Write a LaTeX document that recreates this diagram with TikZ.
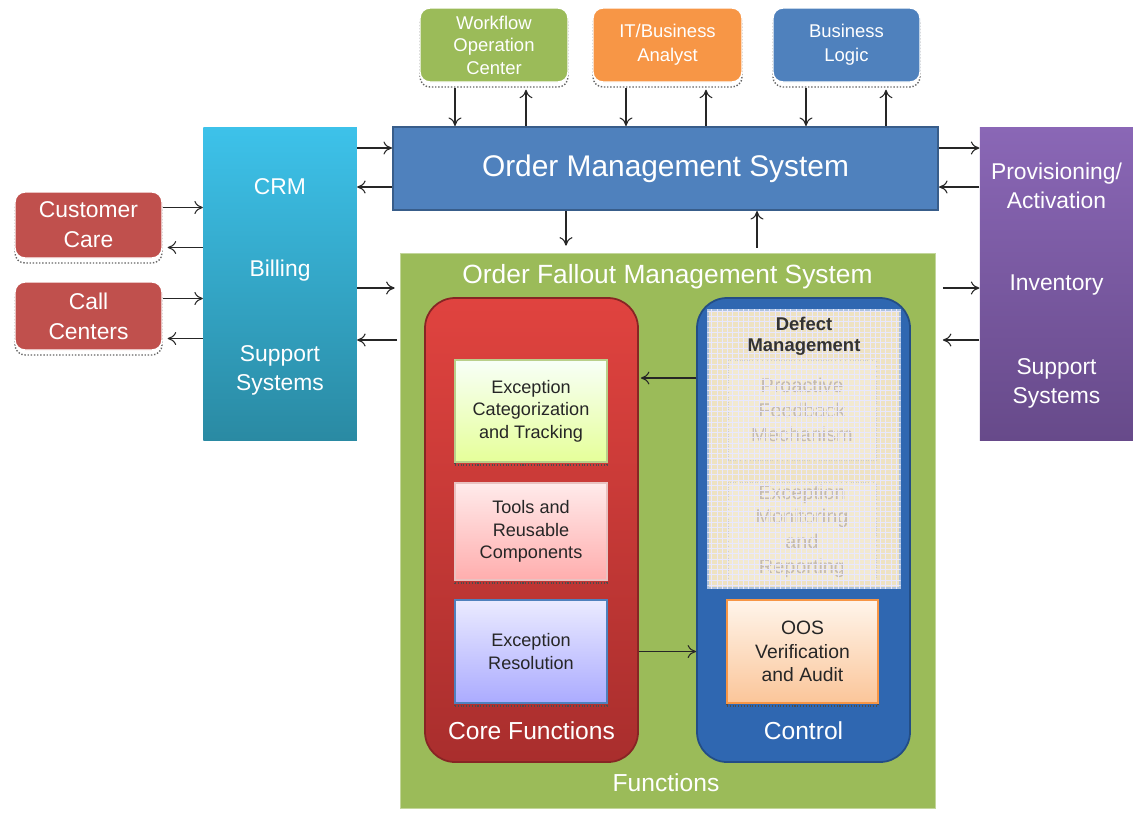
\documentclass[tikz,border=0pt]{standalone}
\usepackage{fontspec}
\setmainfont{Liberation Sans}
\usetikzlibrary{arrows.meta, shadows, patterns}

\definecolor{wfgreen}{HTML}{9BBB59}
\definecolor{itorange}{HTML}{F79646}
\definecolor{omsblue}{HTML}{4F81BD}
\definecolor{omsedge}{HTML}{385D8A}
\definecolor{carered}{HTML}{C0504D}
\definecolor{crmtop}{HTML}{3DC2EA}
\definecolor{crmbot}{HTML}{2A8AA3}
\definecolor{provtop}{HTML}{8A67B6}
\definecolor{provbot}{HTML}{674A8A}
\definecolor{coretop}{HTML}{E0433F}
\definecolor{corebot}{HTML}{A92E2D}
\definecolor{ctrlblue}{HTML}{2F67B1}
\definecolor{defbeige}{HTML}{EEE2C2}

\begin{document}
\begin{tikzpicture}[
    >={To[length=1.7mm,width=2.6mm]},
    link/.style={->, draw=black!85, line width=0.6pt},
    tab/.style={draw=white, line width=0.8pt, rounded corners=0.2cm, text=white, align=center, inner sep=0pt,
        general shadow={fill=white, draw=black!60, densely dotted, shadow yshift=-0.1cm}},
    column/.style={draw=none, inner sep=0pt, minimum width=3.07cm, minimum height=6.26cm},
    collabel/.style={text=white, align=center, font=\fontsize{13}{16.5}\selectfont},
    panel/.style={rounded corners=0.6cm, line width=1pt, inner sep=0pt, minimum width=4.26cm, minimum height=9.28cm},
    panellabel/.style={text=white, font=\fontsize{14}{17}\selectfont},
    part/.style={draw, line width=0.6pt, align=center, inner sep=0pt, text=black!85,
        minimum width=3.04cm, font=\fontsize{10.3}{12.8}\selectfont,
        general shadow={draw=black!70, densely dotted, fill=none, shadow yshift=-0.06cm}},
    faded/.style={draw=black!20, densely dotted, fill=defbeige!60!white, fill opacity=0.6, text opacity=1,
        text=brown!45!black!35, align=center, inner sep=0pt, minimum width=2.96cm, font=\fontsize{11.3}{14}\selectfont}
]
    \fill[white] (0,0) rectangle (22.66,-16.24);
    \useasboundingbox (0,0) rectangle (22.66,-16.24);

    % Actors on top
    \node[tab, fill=wfgreen, minimum width=2.96cm, minimum height=1.48cm, font=\fontsize{10.5}{12.8}\selectfont] (wf) at (9.88,-0.90) {Workflow\\Operation\\Center};
    \node[tab, fill=itorange, minimum width=2.98cm, minimum height=1.48cm, font=\fontsize{10.5}{13.5}\selectfont] (ita) at (13.35,-0.90) {IT/Business\\Analyst};
    \node[tab, fill=omsblue, minimum width=2.94cm, minimum height=1.48cm, font=\fontsize{10.5}{13.5}\selectfont] (bl) at (16.93,-0.90) {Business\\Logic};

    % Order management system
    \node[draw=omsedge, line width=1.2pt, fill=omsblue, minimum width=10.9cm, minimum height=1.66cm, text=white, font=\fontsize{17}{20}\selectfont] (oms) at (13.31,-3.37) {Order Management System};

    % Left column and its actors
    \node[column, top color=crmtop, bottom color=crmbot] (crm) at (5.60,-5.67) {};
    \node[collabel] (crmlbl) at (5.60,-3.74) {CRM};
    \node[collabel] (billlbl) at (5.60,-5.42) {Billing};
    \node[collabel] (supplbl) at (5.60,-7.40) {Support\\Systems};
    \node[tab, fill=carered, minimum width=2.94cm, minimum height=1.32cm, font=\fontsize{13}{17}\selectfont] (care) at (1.77,-4.50) {Customer\\Care};
    \node[tab, fill=carered, minimum width=2.94cm, minimum height=1.36cm, font=\fontsize{13}{17}\selectfont] (calls) at (1.77,-6.32) {Call\\Centers};

    % Right column
    \node[column, top color=provtop, bottom color=provbot] (prov) at (21.13,-5.67) {};
    \node[collabel] (provlbl) at (21.13,-3.72) {Provisioning/\\Activation};
    \node[collabel] (invlbl) at (21.13,-5.70) {Inventory};
    \node[collabel] (supp2lbl) at (21.13,-7.66) {Support\\Systems};

    % Order fallout management system
    \node[fill=wfgreen, draw=wfgreen!60!white, minimum width=10.70cm, minimum height=11.10cm] (ofms) at (13.35,-10.61) {};
    \node[text=white, font=\fontsize{15}{18}\selectfont] (ofmslbl) at (13.35,-5.54) {Order Fallout Management System};
    \node[panellabel] (funclbl) at (13.32,-15.66) {Functions};

    % Core functions
    \node[panel, top color=coretop, bottom color=corebot, draw=corebot!80!black] (core) at (10.63,-10.60) {};
    \node[panellabel] (corelbl) at (10.63,-14.62) {Core Functions};
    \node[part, draw=wfgreen!70!white, top color=green!3!white, bottom color=lime!40!white, minimum height=2.04cm] (exccat) at (10.62,-8.22) {Exception\\Categorization\\and Tracking};
    \node[part, draw=carered!35!white, top color=red!8!white, bottom color=red!32!white, minimum height=1.94cm] (tools) at (10.62,-10.63) {Tools and\\Reusable\\Components};
    \node[part, draw=omsblue, top color=blue!8!white, bottom color=blue!33!white, minimum height=2.06cm] (excres) at (10.62,-13.03) {Exception\\Resolution};

    % Control
    \node[panel, fill=ctrlblue, draw=ctrlblue!75!black] (ctrl) at (16.07,-10.60) {};
    \node[panellabel] (ctrllbl) at (16.07,-14.62) {Control};
    \node[fill=defbeige, draw=white!60!ctrlblue, line width=0.8pt, minimum width=3.84cm, minimum height=5.56cm] (defect) at (16.08,-8.98) {};
    \node[faded, minimum height=2.00cm] (feedback) at (16.04,-8.20) {Proactive\\Feedback\\Mechanism};
    \node[faded, minimum height=1.96cm] (monitor) at (16.04,-10.62) {Exception\\Monitoring\\and\\Reporting};
    \fill[pattern=grid, pattern color=blue!9] (defect.south west) rectangle (defect.north east);
    \node[text=black!80, align=center, font=\bfseries\fontsize{10.5}{12}\selectfont] (deflbl) at (16.08,-6.72) {Defect\\Management};
    \node[part, draw=itorange, top color=orange!8!white, bottom color=itorange!55!white, minimum width=3.02cm, minimum height=2.06cm, font=\fontsize{11}{13.5}\selectfont] (oos) at (16.05,-13.03) {OOS\\Verification\\and Audit};

    % Top actors <-> OMS
    \foreach \src/\dn/\up in {wf/-0.78/0.64, ita/-0.83/0.77, bl/-0.81/0.79} {
        \draw[link, shorten <=0.1cm] ([xshift=\dn cm]\src.south) -- ([xshift=\dn cm]\src.south |- oms.north);
        \draw[link, shorten >=0.14cm] ([xshift=\up cm]\src.south |- oms.north) -- ([xshift=\up cm]\src.south);
    }

    % Customer care, call centers <-> CRM
    \foreach \src in {care, calls} {
        \draw[link] ([yshift=0.35cm]\src.east) -- ([yshift=0.35cm]\src.east -| crm.west);
        \draw[link, shorten >=0.1cm] ([yshift=-0.45cm]\src.east -| crm.west) -- ([yshift=-0.45cm]\src.east);
    }

    % Columns <-> OMS
    \draw[link] ([yshift=0.41cm]oms.west -| crm.east) -- ([yshift=0.41cm]oms.west);
    \draw[link] ([yshift=-0.37cm]oms.west) -- ([yshift=-0.37cm]oms.west -| crm.east);
    \draw[link] ([yshift=0.41cm]oms.east) -- ([yshift=0.41cm]oms.east -| prov.west);
    \draw[link] ([yshift=-0.37cm]oms.east -| prov.west) -- ([yshift=-0.37cm]oms.east);

    % Columns <-> OFMS
    \draw[link, shorten >=0.1cm] ([yshift=-0.09cm]crm.east) -- ([yshift=-0.09cm]crm.east -| ofms.west);
    \draw[link, shorten <=0.05cm] ([yshift=-1.13cm]crm.east -| ofms.west) -- ([yshift=-1.13cm]crm.east);
    \draw[link, shorten <=0.15cm] ([yshift=-0.09cm]prov.west -| ofms.east) -- ([yshift=-0.09cm]prov.west);
    \draw[link, shorten >=0.15cm] ([yshift=-1.13cm]prov.west) -- ([yshift=-1.13cm]prov.west -| ofms.east);

    % OMS <-> OFMS
    \draw[link, shorten >=0.14cm] ([xshift=-1.99cm]oms.south) -- ([xshift=-1.99cm]oms.south |- ofms.north);
    \draw[link, shorten <=0.1cm] ([xshift=1.83cm]oms.south |- ofms.north) -- ([xshift=1.83cm]oms.south);

    % Control <-> core functions
    \draw[link, shorten >=0.04cm] ([yshift=3.04cm]ctrl.west) -- ([yshift=3.04cm]ctrl.west -| core.east);
    \draw[link] (excres.east -| core.east) -- (excres.east -| ctrl.west);
\end{tikzpicture}
\end{document}
